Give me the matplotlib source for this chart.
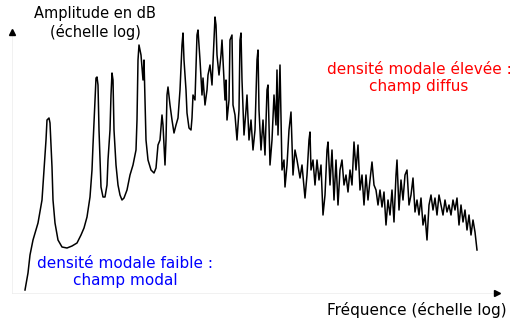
import numpy as np
import matplotlib
matplotlib.use("Agg")
import matplotlib.pyplot as plt

# frequency positions (log scale, arbitrary units) and level drop from the top of the frame
freq = [25, 28, 30, 33, 38, 42, 44, 46, 47, 49, 50, 51, 52, 53, 55, 58, 62, 67, 72, 77,
        81, 84, 87, 90, 92, 93, 95, 96, 97, 98, 99, 100, 101, 103, 105, 107, 108, 110, 111, 112,
        113, 114, 116, 118, 120, 122, 124, 127, 130, 133, 136, 137, 138, 139, 141, 143, 144, 145, 146, 148,
        151, 154, 156, 158, 160, 162, 163, 165, 166, 167, 168, 170, 172, 174, 176, 178, 180, 182, 183, 184,
        186, 187, 189, 191, 192, 193, 195, 197, 198, 200, 202, 203, 205, 207, 208, 210, 212, 214, 215, 216,
        217, 219, 221, 222, 223, 225, 226, 227, 229, 230, 232, 233, 235, 237, 239, 240, 241, 242, 244, 246,
        247, 249, 251, 253, 255, 257, 258, 259, 261, 263, 265, 267, 268, 269, 270, 272, 274, 276, 277, 278,
        280, 281, 282, 284, 285, 287, 289, 291, 293, 295, 297, 300, 302, 305, 307, 309, 310, 311, 313, 315,
        317, 319, 321, 323, 325, 327, 328, 330, 332, 334, 336, 338, 340, 342, 344, 346, 348, 350, 352, 354,
        356, 358, 360, 362, 364, 366, 368, 370, 372, 374, 376, 378, 380, 382, 384, 386, 388, 390, 392, 394,
        396, 397, 399, 401, 403, 405, 407, 409, 411, 413, 415, 417, 419, 421, 423, 425, 427, 429, 431, 433,
        435, 437, 439, 441, 443, 445, 447, 449, 451, 453, 455, 457, 459, 461, 463, 465, 467, 469, 471, 473,
        475, 477]
drop = [290, 273, 255, 240, 223, 200, 170, 140, 120, 118, 123, 145, 167, 200, 223, 240, 247, 248, 246, 243,
        235, 228, 217, 197, 170, 145, 100, 78, 77, 85, 130, 160, 187, 197, 197, 185, 160, 130, 95, 73,
        80, 130, 165, 185, 195, 200, 198, 190, 175, 165, 150, 120, 60, 45, 55, 80, 60, 100, 140, 160,
        170, 173, 168, 145, 140, 115, 125, 165, 140, 95, 87, 105, 120, 133, 125, 118, 90, 45, 33, 60,
        90, 113, 128, 130, 118, 95, 100, 35, 30, 60, 95, 78, 105, 90, 75, 65, 85, 40, 17, 25,
        55, 75, 55, 40, 60, 100, 80, 120, 100, 40, 35, 105, 115, 140, 110, 40, 33, 80, 135, 110,
        95, 140, 120, 150, 130, 60, 50, 110, 150, 120, 155, 90, 85, 125, 165, 140, 95, 125, 70, 135,
        65, 120, 170, 160, 187, 165, 130, 112, 175, 150, 160, 178, 165, 198, 175, 140, 132, 170, 160, 185,
        160, 180, 165, 215, 195, 150, 142, 185, 150, 200, 160, 205, 170, 160, 185, 175, 192, 170, 185, 142,
        170, 145, 190, 175, 205, 175, 200, 180, 162, 185, 190, 205, 190, 207, 192, 225, 200, 215, 190, 222,
        175, 160, 210, 180, 200, 175, 170, 205, 195, 178, 212, 200, 215, 198, 225, 215, 240, 205, 195, 210,
        198, 215, 195, 205, 215, 200, 212, 205, 215, 200, 210, 198, 225, 205, 222, 210, 230, 215, 235, 220,
        232, 250]

W, H = 515, 320
amp = H - np.array(drop)

fig = plt.figure(figsize=(5.15, 3.2), dpi=100)
ax = fig.add_axes([0, 0, 1, 1])
ax.set_xlim(0, W)
ax.set_ylim(0, H)
ax.axis("off")

# axes with arrow heads
ax.plot([12, 12], [H - 293, H - 34], color="0.9", lw=0.4)
ax.plot([12, 495], [H - 293, H - 293], color="0.9", lw=0.4)
ax.plot(12, H - 32, marker="^", color="black", ms=5)
ax.plot(497, H - 293, marker=">", color="black", ms=5)

ax.plot(freq, amp, color="black", lw=1.1)

ax.text(95, H - 23, "Amplitude en dB\n(échelle log)", ha="center", va="center",
        fontsize=10.5, linespacing=1.3)
ax.text(419, H - 78, "densité modale élevée :\nchamp diffus", ha="center", va="center",
        fontsize=11, color="red", linespacing=1.2)
ax.text(125, H - 272, "densité modale faible :\nchamp modal", ha="center", va="center",
        fontsize=11, color="blue", linespacing=1.2)
ax.text(417, H - 310, "Fréquence (échelle log)", ha="center", va="center",
        fontsize=11, color="black")

fig.savefig("out.png", dpi=100)
